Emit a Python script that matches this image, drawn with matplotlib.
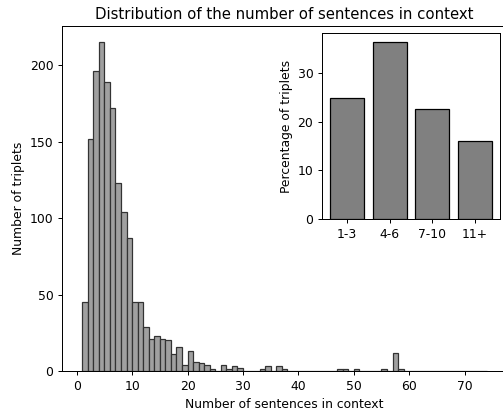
import matplotlib
matplotlib.use("Agg")
import matplotlib.pyplot as plt

# Histogram: count of triplets per number of sentences (bins of width 1, left edges 1..73)
bin_left = list(range(1, 74))
counts = [45, 152, 196, 215, 189, 172, 123, 104, 87, 45,
          45, 29, 21, 23, 21, 20, 11, 16, 4, 13,
          6, 5, 4, 1, 0, 4, 1, 3, 2, 0,
          0, 0, 1, 3, 0, 3, 1, 0, 0, 0,
          0, 0, 0, 0, 0, 0, 1, 1, 0, 1,
          0, 0, 0, 0, 1, 0, 12, 1, 0, 0,
          0, 0, 0, 0, 0, 0, 0, 0, 0, 0,
          0, 0, 0]

# Inset: grouped percentages
groups = ["1-3", "4-6", "7-10", "11+"]
percentages = [24.8, 36.4, 22.7, 16.1]

DPI = 89
fig = plt.figure(figsize=(503/DPI, 411/DPI), dpi=DPI)
ax = fig.add_axes([62/503, 40/411, (507-62)/503, (371-26)/411])
ax.bar(bin_left, counts, width=1.0, align="edge", color="#a0a0a0",
       edgecolor="#333333", linewidth=1.0)
ax.set_xlabel("Number of sentences in context")
ax.set_ylabel("Number of triplets")
ax.set_title("Distribution of the number of sentences in context", fontsize=12)
ax.set_xticks([0, 10, 20, 30, 40, 50, 60, 70])
ax.set_yticks([0, 50, 100, 150, 200])

ins = fig.add_axes([322/503, (411-219)/411, 178/503, 186/411])
ins.bar(groups, percentages, width=0.8, color="#808080", edgecolor="black", linewidth=1.0)
ins.set_ylabel("Percentage of triplets")
ins.set_yticks([0, 10, 20, 30])

fig.savefig("out.png", dpi=DPI)
